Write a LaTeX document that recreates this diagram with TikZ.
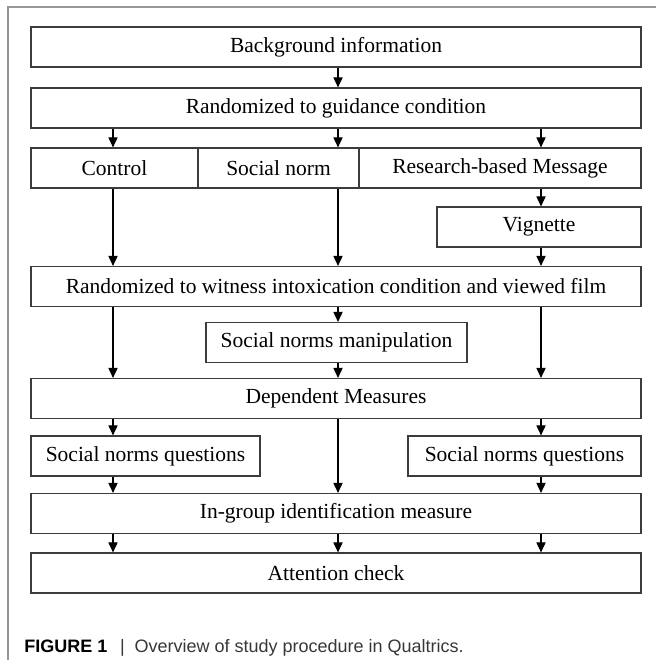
\documentclass[tikz,border=0pt]{standalone}
\usepackage{fontspec}
\setmainfont{Liberation Serif}
\newfontfamily\capfont{Liberation Sans}
\usetikzlibrary{arrows.meta,positioning,calc}
\definecolor{FrameGray}{RGB}{150,150,150}
\definecolor{BoxLine}{RGB}{60,60,60}
\definecolor{CapText}{RGB}{55,55,55}

\begin{document}
\begin{tikzpicture}[x=0.5pt,y=-0.5pt,>={Triangle[width=4.6pt,length=5pt]},
  box/.style={draw=BoxLine,line width=0.6pt,rectangle,minimum height=20pt,inner sep=0pt,
    font=\fontsize{10.75}{13}\selectfont},
  arr/.style={->,line width=0.55pt,draw=black}]
  \useasboundingbox (0,0) rectangle (656,660);
  \draw[FrameGray,line width=0.6pt] (656,7) -- (8,7) -- (8,660);
  % columns for the arrows
  \coordinate (c1) at (113,0);
  \coordinate (c2) at (338,0);
  \coordinate (c3) at (541,0);
  % boxes
  \node[box,minimum width=305pt] (bg) at (336,47) {Background information};
  \node[box,minimum width=305pt] (guid) at (336,108) {Randomized to guidance condition};
  \node[box,minimum width=83.5pt] (ctrl) at (114.5,168) {Control};
  \node[box,minimum width=80.5pt] (snorm) at (278.5,168) {Social norm};
  \node[box,minimum width=141pt] (rbm) at (500,168) {Research-based Message};
  \node[box,minimum width=102pt] (vig) at (539,227) {Vignette};
  \node[box,minimum width=305pt] (wit) at (336,286.5) {Randomized to witness intoxication condition and viewed film};
  \node[box,minimum width=130.5pt] (snm) at (336.5,342.5) {Social norms manipulation};
  \node[box,minimum width=305pt] (dep) at (336,398.5) {Dependent Measures};
  \node[box,minimum width=114.5pt] (snqL) at (145.5,456) {Social norms questions};
  \node[box,minimum width=116.5pt] (snqR) at (524.5,456) {Social norms questions};
  \node[box,minimum width=305pt] (ing) at (336,513.5) {In-group identification measure};
  \node[box,minimum width=305pt] (att) at (336,573) {Attention check};
  % arrows
  \draw[arr] (bg.south -| c2) -- (guid.north -| c2);
  \draw[arr] (guid.south -| c1) -- (ctrl.north -| c1);
  \draw[arr] (guid.south -| c2) -- (snorm.north -| c2);
  \draw[arr] (guid.south -| c3) -- (rbm.north -| c3);
  \draw[arr] (ctrl.south -| c1) -- (wit.north -| c1);
  \draw[arr] (snorm.south -| c2) -- (wit.north -| c2);
  \draw[arr] (rbm.south -| c3) -- (vig.north -| c3);
  \draw[arr] (vig.south -| c3) -- (wit.north -| c3);
  \draw[arr] (wit.south -| c1) -- (dep.north -| c1);
  \draw[arr] (wit.south -| c2) -- (snm.north -| c2);
  \draw[arr] (snm.south -| c2) -- (dep.north -| c2);
  \draw[arr] (wit.south -| c3) -- (dep.north -| c3);
  \draw[arr] (dep.south -| c1) -- (snqL.north -| c1);
  \draw[arr] (dep.south -| c2) -- (ing.north -| c2);
  \draw[arr] (dep.south -| c3) -- (snqR.north -| c3);
  \draw[arr] (snqL.south -| c1) -- (ing.north -| c1);
  \draw[arr] (snqR.south -| c3) -- (ing.north -| c3);
  \foreach \c in {c1,c2,c3}
    \draw[arr] (ing.south -| \c) -- (att.north -| \c);
  % caption
  \node[anchor=base west,inner sep=0pt,font=\capfont\fontsize{9}{11}\selectfont] (cap) at (24,652)
    {{\bfseries FIGURE 1}\hspace{0.7em}{\color{CapText}|\hspace{0.55em}Overview of study procedure in Qualtrics.}};
\end{tikzpicture}
\end{document}
